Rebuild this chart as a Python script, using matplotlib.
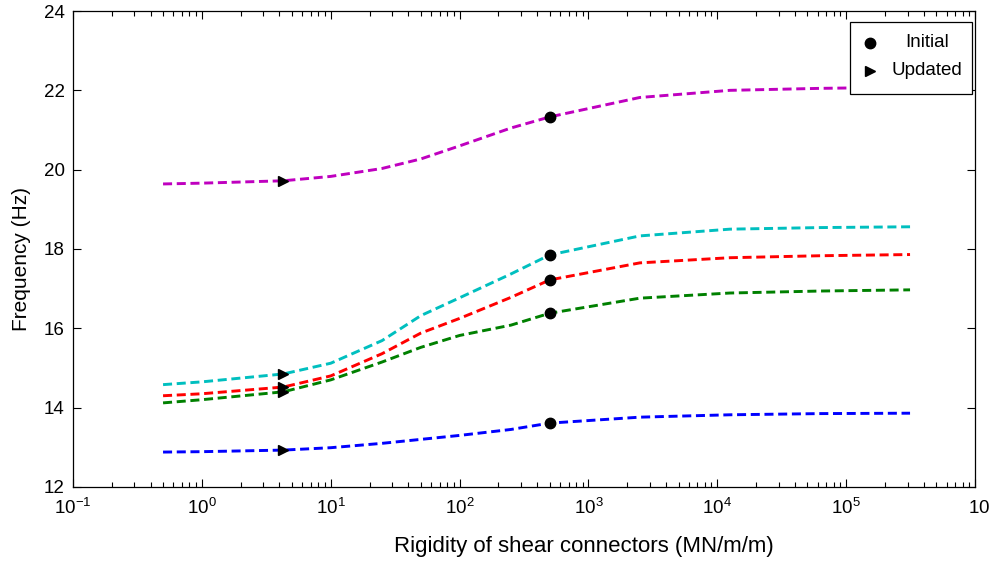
import matplotlib
matplotlib.use("Agg")
import matplotlib.pyplot as plt
import matplotlib.transforms as mtransforms
from matplotlib.ticker import LogLocator, NullFormatter, LogFormatterSciNotation
from matplotlib.patches import Rectangle
import numpy as np

plt.rcParams['font.family'] = ['Liberation Sans', 'DejaVu Sans']
plt.rcParams['mathtext.default'] = 'regular'
plt.rcParams['axes.unicode_minus'] = False

# Rigidity of shear connectors (MN/m/m)
rigidity = [0.5, 1, 4.3, 10, 25, 50, 100, 250, 500, 2500, 12500, 62500, 312500]

freq_mode5 = [19.64, 19.66, 19.72, 19.83, 20.03, 20.27, 20.60, 21.05, 21.33, 21.82, 22.00, 22.05, 22.08]
freq_mode4 = [14.58, 14.65, 14.85, 15.12, 15.69, 16.32, 16.77, 17.37, 17.85, 18.33, 18.50, 18.54, 18.56]
freq_mode3 = [14.30, 14.35, 14.52, 14.80, 15.36, 15.88, 16.25, 16.78, 17.22, 17.65, 17.78, 17.83, 17.86]
freq_mode2 = [14.12, 14.20, 14.40, 14.70, 15.15, 15.52, 15.82, 16.08, 16.38, 16.76, 16.89, 16.94, 16.97]
freq_mode1 = [12.88, 12.89, 12.93, 12.99, 13.10, 13.20, 13.30, 13.45, 13.61, 13.76, 13.82, 13.85, 13.86]

initial_x = 500
updated_x = 4.3
legend_labels = ['Initial', 'Updated']

series = [
    (freq_mode5, (0.75, 0, 0.75)),
    (freq_mode4, (0, 0.75, 0.75)),
    (freq_mode3, (1, 0, 0)),
    (freq_mode2, (0, 0.5, 0)),
    (freq_mode1, (0, 0, 1)),
]

fig = plt.figure(figsize=(9.9, 5.62), dpi=100)
ax = fig.add_axes([0.0737, 0.1335, 0.9113, 0.8469])

for vals, col in series:
    ax.plot(rigidity, vals, color=col, lw=2.1, dashes=(3.1, 1.6))

init_vals = [v[rigidity.index(initial_x)] for v, _ in series]
upd_vals = [v[rigidity.index(updated_x)] for v, _ in series]
ax.plot([initial_x] * len(init_vals), init_vals, 'o', color='k', ms=7.5, ls='none', zorder=5)
ax.plot([updated_x] * len(upd_vals), upd_vals, '>', color='k', ms=7.5, ls='none', zorder=5)

ax.set_xscale('log')
ax.set_xlim(0.1, 1e6)
ax.set_ylim(12, 24)
ax.set_yticks([12, 14, 16, 18, 20, 22, 24])
ax.set_xticks([1e-1, 1e0, 1e1, 1e2, 1e3, 1e4, 1e5, 1e6])
ax.xaxis.set_minor_locator(LogLocator(base=10, subs=np.arange(2, 10), numticks=20))
ax.xaxis.set_minor_formatter(NullFormatter())
ax.xaxis.set_major_formatter(LogFormatterSciNotation())

ax.tick_params(axis='both', which='both', direction='in', top=True, right=True, labelsize=13.5)
ax.tick_params(axis='both', which='major', length=6, width=0.8)
ax.tick_params(axis='x', which='minor', length=3.5, width=0.8)
ax.tick_params(axis='x', which='major', pad=8)
ax.tick_params(axis='y', which='major', pad=6)
for s in ax.spines.values():
    s.set_linewidth(0.9)

ax.set_xlabel('Rigidity of shear connectors (MN/m/m)', fontsize=16)
ax.xaxis.set_label_coords(0.5665, -0.103)
ax.set_ylabel('Frequency (Hz)', fontsize=15)
ax.yaxis.set_label_coords(-0.046, 0.479)

# last x tick label sits slightly right (cut at the figure edge, as in the original)
fig.canvas.draw()
last = ax.get_xticklabels()[-1]
last.set_transform(last.get_transform() + mtransforms.ScaledTranslation(8 / 100, 0, fig.dpi_scale_trans))

# legend box (MATLAB style, centred labels)
tr = ax.transAxes
ax.add_patch(Rectangle((0.8614, 0.8256), 0.1353, 0.1513, transform=tr,
                       facecolor='white', edgecolor='k', lw=0.9, zorder=10))
ax.plot([0.8836], [0.9328], 'o', color='k', ms=7.5, transform=tr, zorder=11, clip_on=False)
ax.plot([0.8836], [0.8740], '>', color='k', ms=7.5, transform=tr, zorder=11, clip_on=False)
ax.text(0.9468, 0.9328, legend_labels[0], transform=tr, ha='center', va='center',
        fontsize=13.5, zorder=11)
ax.text(0.9468, 0.8740, legend_labels[1], transform=tr, ha='center', va='center',
        fontsize=13.5, zorder=11)

fig.savefig('out.png', dpi=100)
